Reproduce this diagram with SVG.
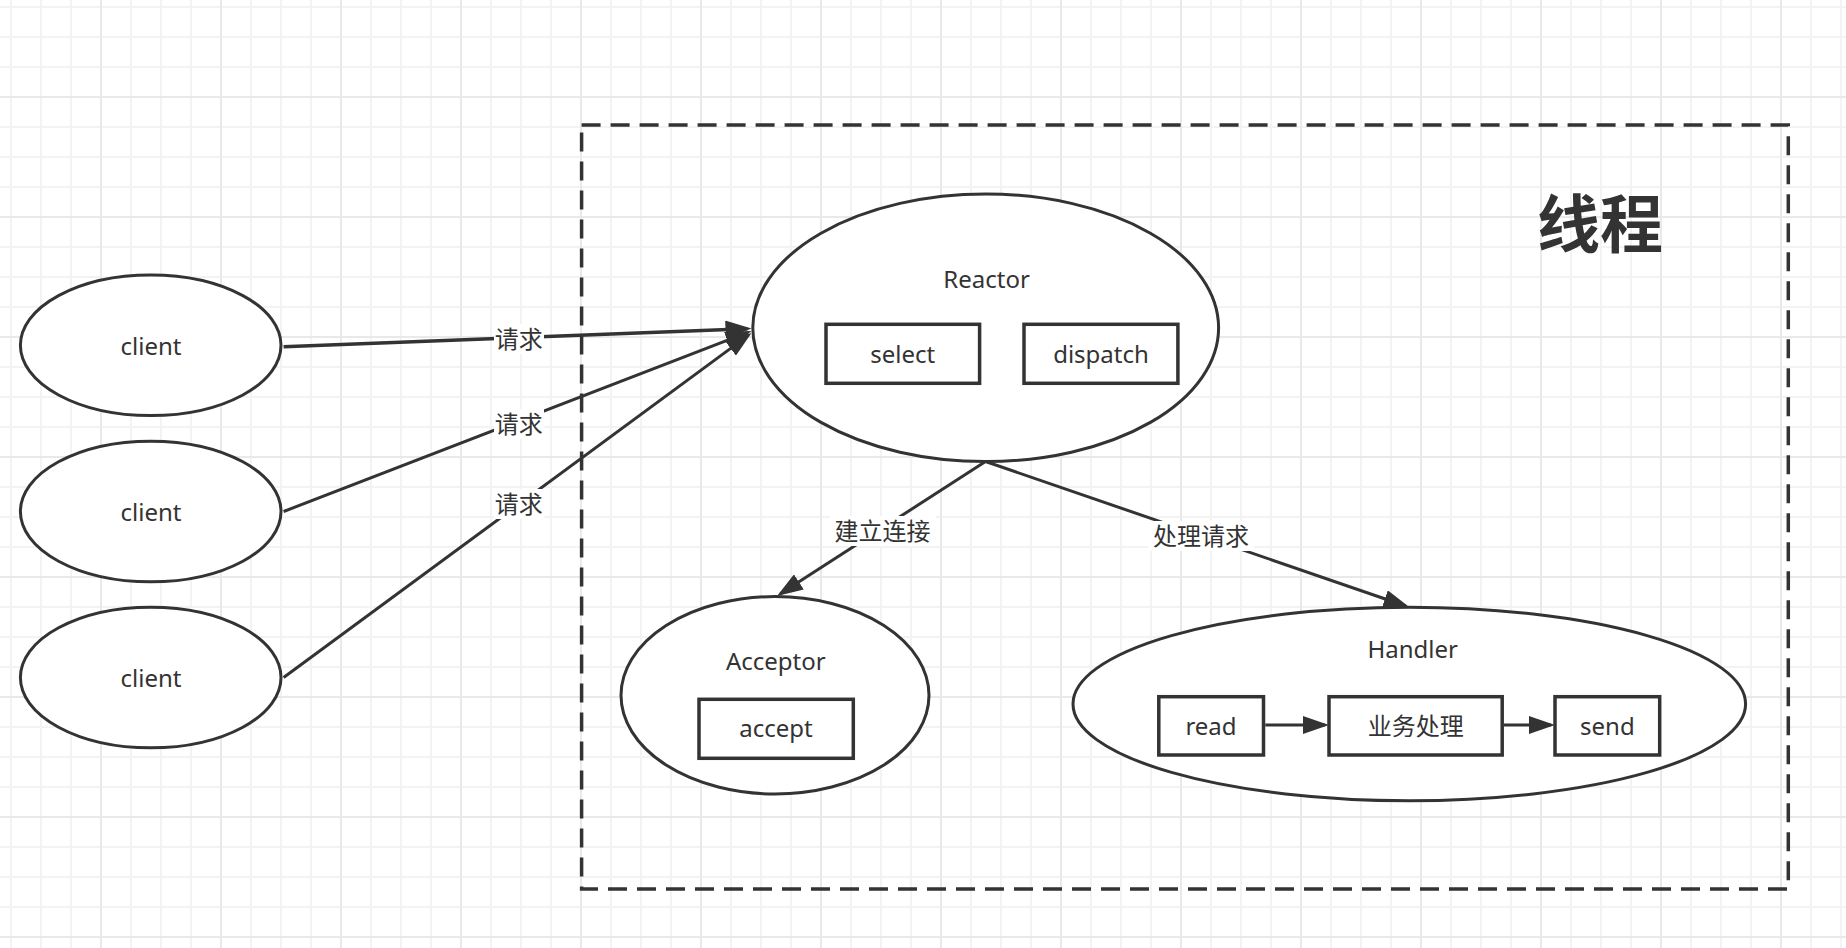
<svg xmlns="http://www.w3.org/2000/svg" width="1846" height="948" viewBox="0 0 1846 948">
<style>
text{font-family:"Noto Sans","Noto Sans CJK SC",sans-serif;font-size:24px;fill:#333;text-anchor:middle}
.node{fill:#fff;stroke:#333;stroke-width:3}
.box{fill:#fff;stroke:#333;stroke-width:3.5}
.edge{fill:none;stroke:#333;stroke-width:3;marker-end:url(#arr)}
.lbl{fill:#fff}
</style>
<defs>
<pattern id="grid" x="100" y="96" width="120" height="120" patternUnits="userSpaceOnUse">
<rect x="30" y="0" width="2" height="120" fill="#f3f3f3"/>
<rect x="60" y="0" width="2" height="120" fill="#f3f3f3"/>
<rect x="90" y="0" width="2" height="120" fill="#f3f3f3"/>
<rect x="0" y="30" width="120" height="2" fill="#f3f3f3"/>
<rect x="0" y="60" width="120" height="2" fill="#f3f3f3"/>
<rect x="0" y="90" width="120" height="2" fill="#f3f3f3"/>
<rect x="0" y="0" width="2" height="120" fill="#e9e9e9"/>
<rect x="0" y="0" width="120" height="2" fill="#e9e9e9"/>
</pattern>
<marker id="arr" markerWidth="26" markerHeight="18" refX="22" refY="9" orient="auto" markerUnits="userSpaceOnUse">
<path d="M0,0 L26,9 L0,18 z" fill="#333"/>
</marker>
</defs>
<rect width="1846" height="948" fill="#fff"/>
<rect width="1846" height="948" fill="url(#grid)"/>

<g id="thread">
<rect x="581.6" y="125" width="1206.7" height="764" fill="none" stroke="#333" stroke-width="3.5" stroke-dasharray="19 10"/>
<text x="1600" y="247" style="font-size:63px;font-weight:bold">线程</text>
</g>

<g id="client1">
<ellipse class="node" cx="150.7" cy="345.3" rx="130.3" ry="70.3"/>
<text x="151" y="355">client</text>
</g>
<g id="client2">
<ellipse class="node" cx="150.7" cy="511.5" rx="130.3" ry="70.3"/>
<text x="151" y="521">client</text>
</g>
<g id="client3">
<ellipse class="node" cx="150.7" cy="677.5" rx="130.3" ry="70.3"/>
<text x="151" y="687">client</text>
</g>

<g id="reactor">
<ellipse class="node" cx="985.7" cy="327.8" rx="232.9" ry="133.8"/>
<text x="986.6" y="288">Reactor</text>
<rect class="box" x="826" y="324.3" width="153.6" height="59"/>
<text x="902.8" y="362.5">select</text>
<rect class="box" x="1024" y="324.3" width="153.9" height="59"/>
<text x="1101" y="362.5">dispatch</text>
</g>

<g id="acceptor">
<ellipse class="node" cx="775" cy="695.3" rx="154" ry="98.7"/>
<text x="775.8" y="669.5">Acceptor</text>
<rect class="box" x="699" y="699.3" width="154.3" height="59"/>
<text x="776" y="736.7">accept</text>
</g>

<g id="handler">
<ellipse class="node" cx="1409.3" cy="704" rx="336.3" ry="96.7"/>
<text x="1412.7" y="658">Handler</text>
<rect class="box" x="1158.8" y="696.7" width="104.7" height="58.3"/>
<text x="1211" y="734.5">read</text>
<rect class="box" x="1329" y="696.7" width="173.2" height="58.3"/>
<text x="1415.7" y="735">业务处理</text>
<rect class="box" x="1555" y="696.7" width="104.7" height="58.3"/>
<text x="1607.4" y="734.5">send</text>
</g>

<g id="connectors">
<path class="edge" d="M283.6,346.7 L747.5,328.7" style="stroke-width:3.5"/>
<path class="edge" d="M283.6,511.5 L747.8,332.4"/>
<path class="edge" d="M283.6,677.5 L748.3,335.4"/>
<path class="edge" d="M985.5,461.5 L780.4,593.8"/>
<path class="edge" d="M985.5,461.5 L1405.7,606"/>
<path class="edge" d="M1265.3,725 L1325,725"/>
<path class="edge" d="M1504,725 L1551,725"/>
<rect class="lbl" x="494" y="324" width="50" height="30"/>
<text x="518.7" y="347.5">请求</text>
<rect class="lbl" x="494" y="409" width="50" height="30"/>
<text x="518.7" y="432.5">请求</text>
<rect class="lbl" x="494" y="489" width="50" height="30"/>
<text x="518.7" y="512.5">请求</text>
<rect class="lbl" x="830" y="516" width="106" height="30"/>
<text x="882.5" y="540">建立连接</text>
<rect class="lbl" x="1148" y="521" width="106" height="30"/>
<text x="1201" y="545">处理请求</text>
</g>
</svg>
